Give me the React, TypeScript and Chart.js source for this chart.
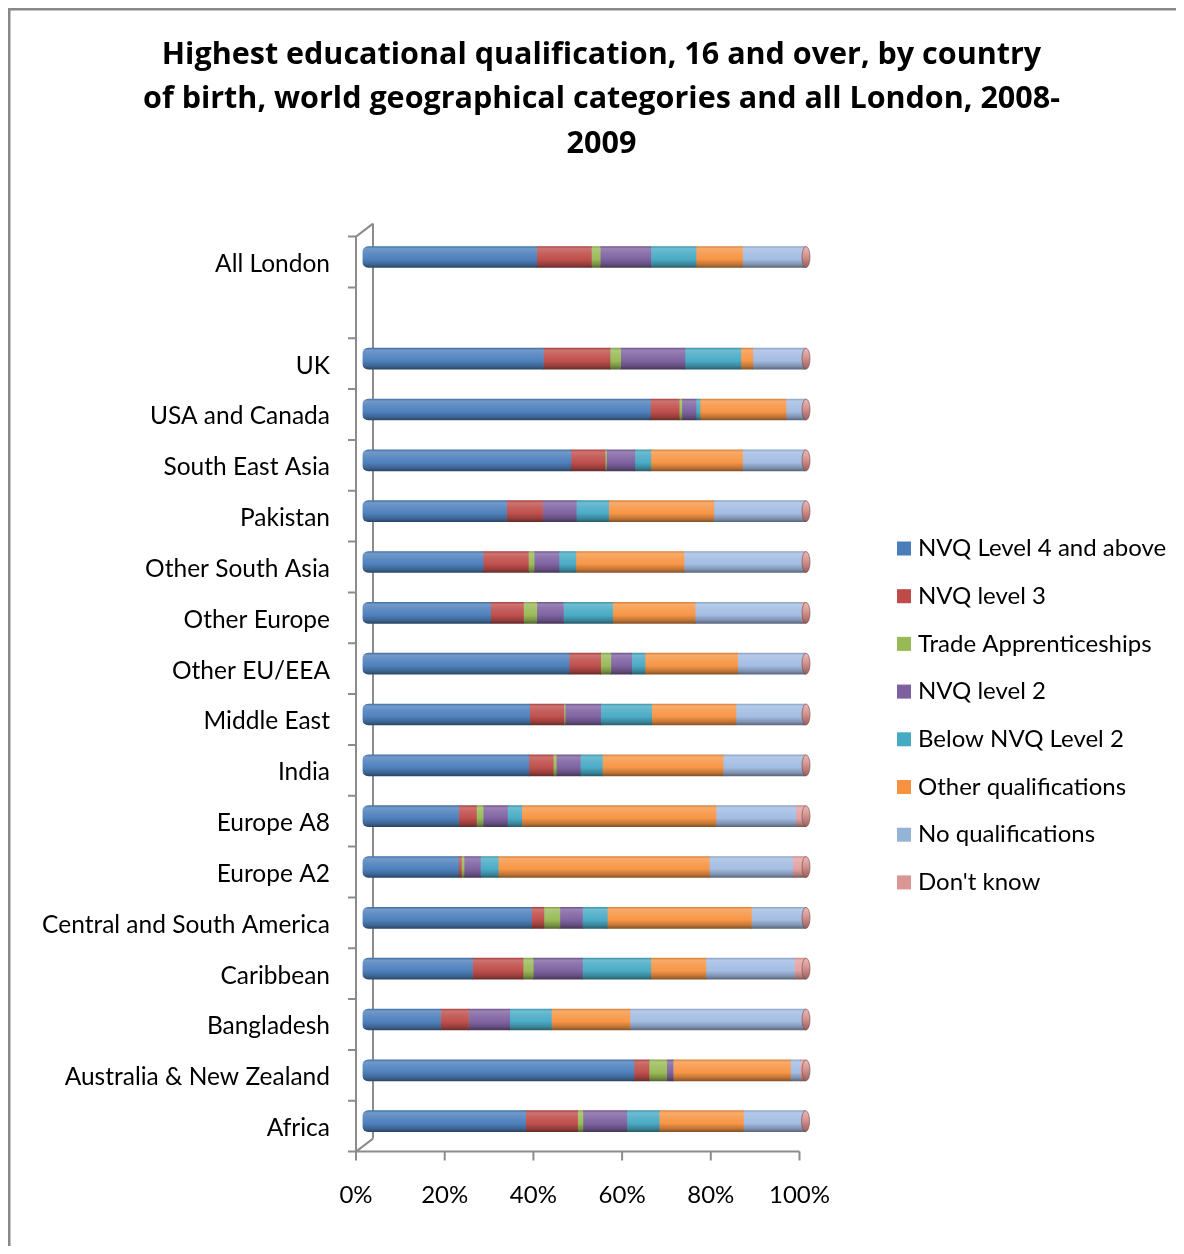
import React, { useEffect, useRef } from 'react';
import { Chart, registerables } from 'chart.js';

Chart.register(...registerables);

// ---------- data ----------
const CATEGORIES = [
  'All London',
  '',
  'UK',
  'USA and Canada',
  'South East Asia',
  'Pakistan',
  'Other South Asia',
  'Other Europe',
  'Other EU/EEA',
  'Middle East',
  'India',
  'Europe A8',
  'Europe A2',
  'Central and South America',
  'Caribbean',
  'Bangladesh',
  'Australia & New Zealand',
  'Africa',
];

const SERIES_NAMES = [
  'NVQ Level 4 and above',
  'NVQ level 3',
  'Trade Apprenticeships',
  'NVQ level 2',
  'Below NVQ Level 2',
  'Other qualifications',
  'No qualifications',
  "Don't know",
];

const NVQ4 = [39.3, null, 40.8, 64.9, 47.0, 32.5, 27.2, 28.9, 46.6, 37.7, 37.5, 21.7, 21.7, 38.1, 24.8, 17.6, 61.2, 36.8];
const NVQ3 = [12.3, null, 15.0, 6.5, 7.7, 8.1, 10.2, 7.4, 7.1, 7.7, 5.5, 4.0, 0.6, 2.8, 11.4, 6.3, 3.4, 11.7];
const TRADE = [2.0, null, 2.4, 0.6, 0.3, 0, 1.3, 3.0, 2.3, 0.3, 0.7, 1.5, 0.6, 3.6, 2.3, 0, 4.0, 1.2];
const NVQ2 = [11.4, null, 14.5, 3.2, 6.4, 7.6, 5.6, 6.0, 4.7, 8.0, 5.4, 5.5, 3.7, 5.1, 11.1, 9.3, 1.4, 9.9];
const BELOW2 = [10.2, null, 12.6, 0.9, 3.6, 7.3, 3.8, 11.1, 3.0, 11.5, 5.0, 3.2, 4.0, 5.6, 15.4, 9.4, 0, 7.3];
const OTHER = [10.5, null, 2.7, 19.4, 20.7, 23.7, 24.4, 18.6, 20.9, 19.0, 27.2, 43.8, 47.6, 32.5, 12.4, 17.7, 26.5, 19.0];
const NOQUAL = [13.6, null, 11.5, 4.0, 13.9, 20.5, 26.8, 24.0, 15.0, 15.3, 18.1, 18.0, 18.8, 12.0, 20.0, 39.5, 2.2, 13.5];
const DONTKNOW = [0.7, null, 0.5, 0.5, 0.4, 0.3, 0.7, 1.0, 0.4, 0.5, 0.6, 2.3, 3.0, 0.3, 2.6, 0.2, 1.3, 0.5];

const SERIES_VALUES = [NVQ4, NVQ3, TRADE, NVQ2, BELOW2, OTHER, NOQUAL, DONTKNOW];

const X_TICK_VALUES = [0, 20, 40, 60, 80, 100];
const X_TICK_LABELS = ['0%', '20%', '40%', '60%', '80%', '100%'];

const TITLE_LINES = [
  'Highest educational qualification, 16 and over, by country',
  'of birth, world geographical categories and all London, 2008-',
  '2009',
];

// ---------- styles ----------
const BAR_COLORS = ['#4F81BD', '#C0504D', '#9BBB59', '#8064A2', '#4BACC6', '#F79646', '#A4BDE3', '#E3A3A1'];
const LEGEND_COLORS = ['#4A7EBB', '#BE4B48', '#98B954', '#7D60A0', '#46AAC5', '#F69240', '#95B3D7', '#D99694'];
const FONT = 'Lato, "Open Sans", "DejaVu Sans", sans-serif';
const TITLE_FONT = '"Open Sans", Lato, "DejaVu Sans", sans-serif';
const AXIS_GRAY = '#8c8c8c';

const CANVAS_W = 1187;
const CANVAS_H = 1246;

function hexToRgb(h: string) {
  const n = parseInt(h.slice(1), 16);
  return [(n >> 16) & 255, (n >> 8) & 255, n & 255];
}
function shade(h: string, amt: number) {
  const [r, g, b] = hexToRgb(h);
  const t = amt < 0 ? 0 : 255;
  const p = Math.abs(amt);
  return `rgb(${Math.round(r + (t - r) * p)},${Math.round(g + (t - g) * p)},${Math.round(b + (t - b) * p)})`;
}

const BAR_HALF = 10.5;

function cylinderFill(base: string) {
  return (ctx: any) => {
    const chart = ctx.chart;
    if (!chart.chartArea || ctx.type !== 'data') return base;
    const yc = chart.scales.y.getPixelForValue(ctx.dataIndex);
    const g = chart.ctx.createLinearGradient(0, yc - BAR_HALF, 0, yc + BAR_HALF);
    g.addColorStop(0, shade(base, -0.12));
    g.addColorStop(0.1, shade(base, 0.2));
    g.addColorStop(0.3, shade(base, 0.1));
    g.addColorStop(0.6, base);
    g.addColorStop(0.85, shade(base, -0.22));
    g.addColorStop(1, shade(base, -0.45));
    return g;
  };
}

// front plane offset relative to the bar plane, and depth of the 3D box
const FRONT_DX = -6.5;
const FRONT_DY = 5;
const DEPTH_X = 17;
const DEPTH_Y = 13;

const frame3d = {
  id: 'frame3d',
  beforeDraw(chart: any) {
    const c = chart.ctx;
    c.save();
    c.fillStyle = '#888888';
    c.fillRect(0, 0, chart.width, 2.5);
    c.fillRect(0, 0, 2.5, chart.height);
    c.restore();
  },
  beforeDatasetsDraw(chart: any) {
    const { ctx: c, chartArea: ca, scales } = chart;
    const x = scales.x;
    const fx = x.getPixelForValue(0) + FRONT_DX;
    const fxr = x.getPixelForValue(100) + FRONT_DX;
    const ft = ca.top + FRONT_DY;
    const fb = ca.bottom + FRONT_DY;
    c.save();
    c.strokeStyle = AXIS_GRAY;
    c.lineWidth = 2;
    c.lineCap = 'butt';
    c.beginPath();
    // back wall edge
    c.moveTo(fx + DEPTH_X, ft - DEPTH_Y);
    c.lineTo(fx + DEPTH_X, fb - DEPTH_Y);
    // diagonals
    c.moveTo(fx, ft);
    c.lineTo(fx + DEPTH_X, ft - DEPTH_Y);
    c.moveTo(fx, fb);
    c.lineTo(fx + DEPTH_X, fb - DEPTH_Y);
    // front vertical axis
    c.moveTo(fx, ft);
    c.lineTo(fx, fb);
    // front horizontal axis
    c.moveTo(fx - 1, fb);
    c.lineTo(fxr, fb);
    c.stroke();
    // y ticks
    const n = CATEGORIES.length;
    const step = (fb - ft) / n;
    c.beginPath();
    for (let i = 0; i <= n; i++) {
      const yy = ft + i * step;
      c.moveTo(fx - 8, yy);
      c.lineTo(fx, yy);
    }
    // x ticks
    X_TICK_VALUES.forEach((v) => {
      const xx = x.getPixelForValue(v) + FRONT_DX;
      c.moveTo(xx, fb);
      c.lineTo(xx, fb + 9);
    });
    c.stroke();
    c.restore();
  },
  afterDatasetsDraw(chart: any) {
    const { ctx: c, scales } = chart;
    c.save();
    CATEGORIES.forEach((_, i) => {
      let total = 0;
      SERIES_VALUES.forEach((s) => {
        total += s[i] || 0;
      });
      if (total <= 0) return;
      const xe = scales.x.getPixelForValue(total);
      const yc = scales.y.getPixelForValue(i);
      const g = c.createLinearGradient(0, yc - BAR_HALF, 0, yc + BAR_HALF);
      g.addColorStop(0, '#e9b9b7');
      g.addColorStop(0.45, '#d49592');
      g.addColorStop(1, '#9c5e5c');
      c.beginPath();
      c.ellipse(xe, yc, 4, BAR_HALF, 0, 0, Math.PI * 2);
      c.fillStyle = g;
      c.fill();
      c.lineWidth = 1;
      c.strokeStyle = 'rgba(120,70,68,0.6)';
      c.stroke();
    });
    c.restore();
  },
  afterDraw(chart: any) {
    const c = chart.ctx;
    c.save();
    c.font = `24px ${FONT}`;
    c.textBaseline = 'middle';
    c.textAlign = 'left';
    const bx = 889;
    const tx = 910;
    const y0 = 540.5;
    const dy = 47.7;
    chart.data.datasets.forEach((ds: any, i: number) => {
      const yc = y0 + i * dy;
      c.fillStyle = LEGEND_COLORS[i];
      c.fillRect(bx, yc - 7, 14, 14);
      c.fillStyle = '#000000';
      c.fillText(ds.label, tx, yc);
    });
    c.restore();
  },
};

export default function App() {
  const ref = useRef<HTMLCanvasElement | null>(null);

  useEffect(() => {
    if (!ref.current) return;
    const datasets = SERIES_NAMES.map((name, si) => ({
      label: name,
      data: SERIES_VALUES[si],
      backgroundColor: cylinderFill(BAR_COLORS[si]),
      borderWidth: 0,
      borderSkipped: false as const,
      borderRadius:
        si === 0
          ? { topLeft: 6, bottomLeft: 6, topRight: 0, bottomRight: 0 }
          : 0,
      barThickness: 21,
      stack: 's',
    }));

    const chart = new Chart(ref.current, {
      type: 'bar',
      data: { labels: CATEGORIES, datasets },
      plugins: [frame3d],
      options: {
        indexAxis: 'y',
        responsive: false,
        animation: false,
        devicePixelRatio: 1,
        layout: { padding: { left: 0, right: 0, top: 0, bottom: 0 } },
        plugins: {
          legend: { display: false },
          tooltip: { enabled: false },
          title: {
            display: true,
            text: TITLE_LINES,
            color: '#000000',
            font: { family: TITLE_FONT, size: 30.5, weight: 'bold', lineHeight: 44.8 / 30.5 },
            padding: { top: 24.5, bottom: 64.7 },
          },
        },
        scales: {
          x: {
            type: 'linear',
            stacked: true,
            min: 0,
            max: 100,
            grid: { display: false, drawTicks: false },
            border: { display: false },
            afterBuildTicks: (scale: any) => {
              scale.ticks = X_TICK_VALUES.map((v) => ({ value: v }));
            },
            ticks: {
              color: '#000000',
              font: { family: FONT, size: 24 },
              padding: 34,
              labelOffset: -6.5,
              callback: (v: any) => X_TICK_LABELS[X_TICK_VALUES.indexOf(Number(v))],
            },
            afterFit: (scale: any) => {
              scale.height = 107.4;
            },
          },
          y: {
            type: 'category',
            stacked: true,
            grid: { display: false, drawTicks: false },
            border: { display: false },
            ticks: {
              color: '#000000',
              font: { family: FONT, size: 24.5 },
              padding: 32.5,
              labelOffset: 7,
              autoSkip: false,
            },
            afterFit: (scale: any) => {
              scale.width = 354.5;
            },
          },
          spacer: {
            type: 'linear',
            position: 'right',
            display: true,
            grid: { display: false, drawTicks: false },
            border: { display: false },
            ticks: { display: false },
            afterFit: (scale: any) => {
              scale.width = CANVAS_W - 798;
            },
          },
        },
      } as any,
    });
    return () => chart.destroy();
  }, []);

  return (
    <div style={{ width: 1176, height: 1238, overflow: 'hidden', position: 'relative' }}>
      <canvas ref={ref} width={CANVAS_W} height={CANVAS_H} style={{ display: 'block' }} />
    </div>
  );
}
